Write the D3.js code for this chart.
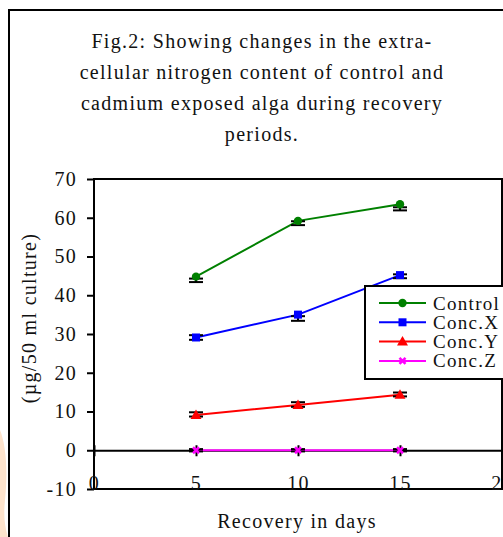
<!DOCTYPE html>
<html>
<head>
<meta charset="utf-8">
<script src="https://cdn.jsdelivr.net/npm/d3@7"></script>
<style>
  body { margin: 0; background: #fff; }
  svg text { font-family: "Liberation Serif", "Times New Roman", serif; font-size: 20px; fill: #111; letter-spacing: 1.3px; }
</style>
</head>
<body>
<div class="chart"></div>
<script>
// data
const days = [5, 10, 15];
const seriesNames = ['Control', 'Conc.X', 'Conc.Y', 'Conc.Z'];
const control = [44.8, 59.2, 63.5];
const concX = [29.1, 35.0, 45.2];
const concY = [9.1, 11.7, 14.3];
const concZ = [0, 0, 0];
// error bar ends (low / high) as seen in the picture
const controlLo = [43.4, 58.1, 61.9], controlHi = [44.3, 59.1, 62.7];
const concXLo = [28.5, 33.4, 44.4], concXHi = [29.7, 34.6, 45.4];
const concYLo = [8.7, 11.2, 13.9], concYHi = [9.8, 12.4, 14.9];
const concZLo = [-0.3, -0.3, -0.3], concZHi = [0.3, 0.3, 0.3];
const yTicks = [-10, 0, 10, 20, 30, 40, 50, 60, 70];
const xTicks = [0, 5, 10, 15, 20];
const titleLines = [
  'Fig.2: Showing changes in the extra-',
  'cellular nitrogen content of control and',
  'cadmium exposed alga during recovery',
  'periods.'
];
const xLabel = 'Recovery in days';
const yLabel = '(\u00b5g/50 ml culture)';

const colors = ['#008000', '#0000ff', '#ff0000', '#ff00ff'];
const shapes = ['circle', 'square', 'triangle', 'cross'];

const series = [control, concX, concY, concZ].map((vals, i) => ({
  name: seriesNames[i],
  color: colors[i],
  shape: shapes[i],
  values: vals.map((v, j) => ({ day: days[j], value: v })),
  lo: [controlLo, concXLo, concYLo, concZLo][i],
  hi: [controlHi, concXHi, concYHi, concZHi][i]
}));

const W = 503, H = 537;
const svg = d3.select('.chart').append('svg').attr('width', W).attr('height', H);

// faint peach smudge at left edge
svg.append('path')
  .attr('d', 'M0,430 C6,445 8,470 5,500 C3,520 6,530 8,537 L0,537 Z')
  .style('fill', '#fde3cc');

// outer frame (left and top visible)
svg.append('path').attr('d', `M9,${H} L9,10 L${W},10`)
  .style('fill', 'none').style('stroke', '#000').style('stroke-width', 2);

// title
svg.append('text').attr('text-anchor', 'middle')
  .selectAll('tspan').data(titleLines).enter()
  .append('tspan').attr('x', 262).attr('y', (d, i) => 48 + i * 31).text(d => d);

const xScale = d3.scaleLinear().domain([0, 20]).range([94, 502]);
const yScale = d3.scaleLinear().domain([-10, 70]).range([489, 179]);

// plot frame
svg.append('rect')
  .attr('x', xScale(0)).attr('y', yScale(70))
  .attr('width', xScale(20) - xScale(0)).attr('height', yScale(-10) - yScale(70))
  .style('fill', 'none').style('stroke', '#000').style('stroke-width', 2);

// y axis (plain hyphen for negatives)
const yAxis = d3.axisLeft(yScale).tickValues(yTicks).tickSize(7).tickPadding(10).tickFormat(d => String(d));
const yG = svg.append('g').attr('transform', `translate(${xScale(0)},0)`).call(yAxis);
yG.select('.domain').remove();
yG.selectAll('line').style('stroke', '#000').style('stroke-width', 2);
yG.selectAll('text').style('font-size', '20px').style('font-family', null);

// zero line with crossing ticks
const zeroAxis = d3.axisBottom(xScale).tickValues(xTicks).tickSize(6).tickSizeOuter(0).tickFormat('');
const zG = svg.append('g').attr('transform', `translate(0,${yScale(0)})`).call(zeroAxis);
zG.select('.domain').style('stroke', '#000').style('stroke-width', 2);
zG.selectAll('line').attr('y1', -5).style('stroke', '#000').style('stroke-width', 2);

// x tick labels sit on the bottom edge
const xAxis = d3.axisTop(xScale).tickValues(xTicks).tickSize(0).tickPadding(-1);
const xG = svg.append('g').attr('transform', `translate(0,${yScale(-10)})`).call(xAxis);
xG.select('.domain').remove();
xG.selectAll('text').style('font-size', '20px').style('font-family', null);

// axis titles
svg.append('text').attr('x', 297).attr('y', 528).attr('text-anchor', 'middle').text(xLabel);
svg.append('text').attr('transform', 'translate(36,318) rotate(-90)')
  .attr('text-anchor', 'middle').text(yLabel);

// lines
const lineGen = d3.line().x(d => xScale(d.day)).y(d => yScale(d.value));
svg.append('g').selectAll('.line-series').data(series).enter()
  .append('path').attr('class', 'line-series')
  .attr('d', d => lineGen(d.values))
  .style('fill', 'none').style('stroke', d => d.color).style('stroke-width', 2);

// error bars
const eb = svg.append('g');
series.forEach(s => {
  days.forEach((day, j) => {
    const cx = xScale(day);
    eb.append('line').attr('x1', cx).attr('x2', cx)
      .attr('y1', yScale(s.lo[j])).attr('y2', yScale(s.hi[j]));
    [s.lo[j], s.hi[j]].forEach(v => {
      eb.append('line').attr('x1', cx - 7).attr('x2', cx + 7)
        .attr('y1', yScale(v)).attr('y2', yScale(v));
    });
  });
});
eb.selectAll('line').style('stroke', '#000').style('stroke-width', 2);

// marker drawing
function drawMarker(g, shape, color, cx, cy) {
  if (shape === 'circle') {
    g.append('circle').attr('cx', cx).attr('cy', cy).attr('r', 4.2).style('fill', color);
  } else if (shape === 'square') {
    g.append('rect').attr('x', cx - 4).attr('y', cy - 4).attr('width', 8).attr('height', 8).style('fill', color);
  } else if (shape === 'triangle') {
    g.append('path').attr('d', `M${cx},${cy - 5.5} L${cx + 5.5},${cy + 4} L${cx - 5.5},${cy + 4} Z`).style('fill', color);
  } else {
    g.append('path').attr('d', `M${cx - 3},${cy - 3} L${cx + 3},${cy + 3} M${cx + 3},${cy - 3} L${cx - 3},${cy + 3}`)
      .style('stroke', color).style('stroke-width', 2.5);
  }
}
const mk = svg.append('g');
series.forEach(s => s.values.forEach(d => drawMarker(mk, s.shape, s.color, xScale(d.day), yScale(d.value))));

// legend
const legend = svg.append('g');
legend.append('rect').attr('x', 365).attr('y', 286).attr('width', 150).attr('height', 93)
  .style('fill', '#fff').style('stroke', '#000').style('stroke-width', 2);
series.forEach((s, i) => {
  const ly = 303 + i * 19.3;
  legend.append('line').attr('x1', 379).attr('x2', 426).attr('y1', ly).attr('y2', ly)
    .style('stroke', s.color).style('stroke-width', 2);
  drawMarker(legend, s.shape, s.color, 402.5, ly);
  legend.append('text').attr('x', 433).attr('y', ly + 6.5).style('font-size', '19px').text(s.name);
});
</script>
</body>
</html>
